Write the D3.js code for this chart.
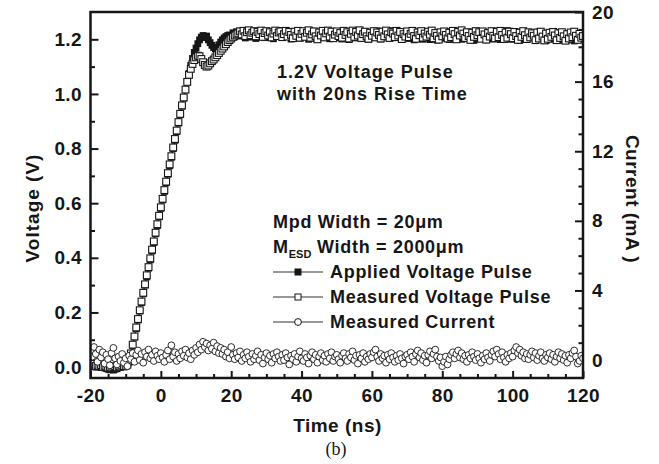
<!DOCTYPE html>
<html>
<head>
<meta charset="utf-8">
<script src="https://cdn.jsdelivr.net/npm/d3@7.9.0/dist/d3.min.js"></script>
<style>
  body { margin: 0; background: #fff; }
  svg text { font-family: "Liberation Sans", Arial, sans-serif; font-weight: bold; fill: #161616; }
  .tick text { font-size: 19px; letter-spacing: 0.4px; }
  .title { font-size: 19px; }
  .note { font-size: 18px; letter-spacing: 1px; }
  .leg { font-size: 18px; letter-spacing: 0.7px; }
  .cap { font-family: "Liberation Serif", "Times New Roman", serif !important; font-weight: normal !important; font-size: 18px; }
</style>
</head>
<body>
<svg id="chart" width="659" height="464"></svg>
<script>
// scope samples: every 0.5 ns from -20 ns
const startTime = -20;
const timeStep = 0.5;

const appliedV = [
  0.004, 0.002, 0.003, 0.000, 0.001, 0.002, -0.002, 0.000, -0.003, -0.005, -0.008, -0.010, -0.009, -0.011, -0.008, -0.006, -0.002, 0.000, 0.002, 0.001,
  0.003, 0.006, 0.018, 0.045, 0.078, 0.110, 0.140, 0.172, 0.205, 0.236, 0.268, 0.300, 0.330, 0.362, 0.393, 0.425, 0.456, 0.488, 0.518, 0.550,
  0.581, 0.612, 0.643, 0.675, 0.706, 0.737, 0.768, 0.800, 0.830, 0.862, 0.893, 0.924, 0.955, 0.985, 1.015, 1.045, 1.075, 1.105, 1.130, 1.152,
  1.168, 1.184, 1.198, 1.208, 1.214, 1.206, 1.212, 1.198, 1.188, 1.178, 1.170, 1.165, 1.170, 1.180, 1.190, 1.198, 1.205, 1.210, 1.214, 1.216,
  1.214, 1.224, 1.209, 1.228, 1.217, 1.230, 1.212, 1.222, 1.205, 1.226, 1.219, 1.208, 1.229, 1.215, 1.203, 1.224, 1.211, 1.231, 1.218, 1.206,
  1.225, 1.210, 1.228, 1.216, 1.202, 1.223, 1.213, 1.232, 1.219, 1.207, 1.226, 1.212, 1.229, 1.217, 1.201, 1.221, 1.209, 1.227, 1.214, 1.204,
  1.224, 1.211, 1.228, 1.215, 1.200, 1.219, 1.230, 1.213, 1.203, 1.222, 1.227, 1.208, 1.220, 1.212, 1.229, 1.217, 1.202, 1.225, 1.210, 1.221,
  1.206, 1.226, 1.214, 1.201, 1.219, 1.229, 1.210, 1.199, 1.216, 1.225, 1.205, 1.221, 1.230, 1.212, 1.203, 1.218, 1.227, 1.209, 1.200, 1.215,
  1.226, 1.207, 1.218, 1.231, 1.213, 1.201, 1.221, 1.228, 1.209, 1.224, 1.204, 1.216, 1.232, 1.219, 1.206, 1.225, 1.212, 1.200, 1.220, 1.229,
  1.214, 1.203, 1.224, 1.210, 1.198, 1.217, 1.227, 1.206, 1.222, 1.200, 1.213, 1.229, 1.208, 1.199, 1.219, 1.225, 1.205, 1.197, 1.215, 1.223,
  1.204, 1.218, 1.228, 1.209, 1.199, 1.214, 1.226, 1.203, 1.219, 1.231, 1.212, 1.200, 1.210, 1.222, 1.202, 1.216, 1.227, 1.207, 1.196, 1.213,
  1.224, 1.205, 1.215, 1.229, 1.211, 1.198, 1.220, 1.208, 1.225, 1.201, 1.214, 1.230, 1.210, 1.199, 1.219, 1.204, 1.223, 1.232, 1.213, 1.200,
  1.219, 1.207, 1.226, 1.203, 1.196, 1.214, 1.228, 1.211, 1.199, 1.221, 1.205, 1.224, 1.209, 1.197, 1.216, 1.227, 1.203, 1.218, 1.201, 1.195,
  1.213, 1.200, 1.222, 1.206, 1.225, 1.202, 1.196, 1.212, 1.223, 1.199, 1.215, 1.197, 1.206, 1.221, 1.203, 1.194, 1.211, 1.198, 1.216, 1.201,
  1.207
];

const measuredV = [
  0.010, 0.006, 0.012, 0.004, 0.008, 0.003, 0.007, 0.001, 0.005, 0.002, -0.002, 0.001, -0.003, 0.000, 0.003, -0.001, 0.004, 0.002, 0.006, 0.003,
  0.005, 0.010, 0.024, 0.050, 0.082, 0.112, 0.145, 0.176, 0.208, 0.240, 0.272, 0.303, 0.336, 0.366, 0.398, 0.430, 0.460, 0.492, 0.523, 0.554,
  0.585, 0.616, 0.648, 0.679, 0.710, 0.742, 0.772, 0.804, 0.835, 0.866, 0.897, 0.927, 0.958, 0.987, 1.016, 1.044, 1.070, 1.092, 1.110, 1.124,
  1.134, 1.140, 1.138, 1.128, 1.116, 1.106, 1.100, 1.104, 1.112, 1.120, 1.126, 1.134, 1.142, 1.150, 1.158, 1.166, 1.174, 1.182, 1.190, 1.197,
  1.203, 1.209, 1.214, 1.218, 1.222, 1.229, 1.218, 1.231, 1.212, 1.226, 1.233, 1.215, 1.224, 1.230, 1.211, 1.227, 1.219, 1.232, 1.209, 1.223,
  1.230, 1.214, 1.226, 1.207, 1.221, 1.232, 1.212, 1.225, 1.229, 1.208, 1.219, 1.231, 1.210, 1.227, 1.216, 1.204, 1.228, 1.213, 1.231, 1.206,
  1.220, 1.230, 1.209, 1.224, 1.233, 1.206, 1.218, 1.229, 1.211, 1.200, 1.225, 1.214, 1.231, 1.207, 1.222, 1.232, 1.210, 1.228, 1.204, 1.217,
  1.229, 1.212, 1.223, 1.206, 1.231, 1.216, 1.226, 1.203, 1.220, 1.232, 1.209, 1.227, 1.214, 1.233, 1.205, 1.219, 1.228, 1.211, 1.202, 1.224,
  1.213, 1.230, 1.207, 1.225, 1.216, 1.203, 1.228, 1.211, 1.232, 1.218, 1.205, 1.226, 1.221, 1.208, 1.231, 1.214, 1.227, 1.201, 1.219, 1.210,
  1.229, 1.208, 1.220, 1.231, 1.212, 1.202, 1.225, 1.215, 1.230, 1.206, 1.221, 1.210, 1.228, 1.217, 1.232, 1.204, 1.223, 1.213, 1.199, 1.226,
  1.211, 1.229, 1.216, 1.203, 1.224, 1.208, 1.231, 1.219, 1.200, 1.227, 1.214, 1.233, 1.221, 1.205, 1.226, 1.212, 1.198, 1.224, 1.209, 1.230,
  1.215, 1.226, 1.202, 1.229, 1.218, 1.199, 1.223, 1.210, 1.230, 1.213, 1.204, 1.227, 1.208, 1.231, 1.216, 1.201, 1.225, 1.206, 1.228, 1.219,
  1.204, 1.227, 1.212, 1.198, 1.224, 1.209, 1.230, 1.215, 1.201, 1.226, 1.207, 1.222, 1.213, 1.197, 1.225, 1.203, 1.228, 1.210, 1.196, 1.221,
  1.202, 1.224, 1.209, 1.227, 1.214, 1.197, 1.222, 1.205, 1.226, 1.211, 1.195, 1.219, 1.203, 1.225, 1.208, 1.228, 1.213, 1.198, 1.220, 1.206,
  1.212
];

// measured current, mA (right axis)
const currentMA = [
  0.55, 0.20, 0.75, 0.35, -0.10, 0.60, 0.15, 0.45, -0.20, 0.30, 0.05, -0.30, 0.40, 0.70, 0.10, -0.25, 0.20, -0.05, 0.35, -0.15,
  0.10, -0.35, 0.25, 0.05, 0.40, -0.10, 0.30, 0.55, 0.00, 0.35, -0.15, 0.45, 0.20, 0.60, 0.10, 0.30, -0.05, 0.50, 0.25, 0.05,
  0.40, 0.15, -0.10, 0.30, 0.55, 0.05, 0.85, 0.20, 0.45, -0.05, 0.35, 0.10, 0.50, 0.25, 0.60, 0.15, 0.40, 0.05, 0.55, 0.30,
  0.70, 0.45, 0.90, 0.60, 1.05, 0.75, 0.95, 0.55, 0.85, 0.65, 1.00, 0.50, 0.80, 0.40, 0.70, 0.35, 0.60, 0.20, 0.45, 0.10,
  0.75, 0.30, 0.05, 0.40, 0.15, 0.50, -0.05, 0.30, 0.10, 0.45, 0.20, -0.10, 0.35, 0.05, 0.25, 0.50, 0.00, 0.30, -0.20, 0.15,
  0.40, 0.05, 0.25, -0.15, 0.35, 0.10, 0.45, 0.20, -0.05, 0.30, 0.00, 0.40, 0.15, -0.25, 0.25, 0.05, 0.35, -0.10, 0.20, 0.50,
  0.10, -0.05, 0.35, 0.15, -0.20, 0.25, 0.45, 0.05, 0.30, -0.15, 0.20, 0.40, 0.00, 0.25, -0.10, 0.35, 0.10, 0.45, -0.05, 0.20,
  0.30, 0.05, -0.15, 0.25, 0.40, 0.10, -0.05, 0.35, 0.15, 0.50, 0.00, 0.25, -0.20, 0.30, 0.10, 0.40, -0.10, 0.20, 0.05, 0.35,
  0.15, 0.45, 0.60, 0.20, -0.05, 0.35, 0.10, 0.25, -0.15, 0.30, 0.05, 0.40, 0.15, -0.10, 0.25, 0.00, 0.35, 0.10, -0.20, 0.20,
  0.30, 0.05, 0.45, 0.20, -0.10, 0.35, 0.55, 0.15, 0.40, 0.00, 0.25, -0.15, 0.30, 0.50, 0.10, 0.35, 0.60, 0.20, -0.05, 0.15,
  -0.35, -0.10, 0.20, -0.25, 0.05, 0.30, 0.45, 0.10, 0.35, 0.55, 0.15, 0.40, 0.05, 0.25, -0.10, 0.30, 0.10, 0.45, 0.20, 0.00,
  0.35, 0.10, -0.15, 0.25, 0.05, 0.40, 0.15, -0.05, 0.30, 0.50, 0.20, 0.60, 0.35, 0.05, 0.45, 0.15, -0.10, 0.30, 0.10, 0.40,
  0.20, 0.55, 0.75, 0.40, 0.60, 0.25, 0.45, 0.10, 0.35, 0.05, 0.30, 0.50, 0.15, 0.40, 0.00, 0.25, 0.45, 0.10, -0.05, 0.30,
  0.15, 0.40, 0.05, 0.30, -0.10, 0.20, 0.45, 0.10, 0.35, 0.00, 0.25, -0.15, 0.30, 0.10, 0.40, 0.55, 0.20, -0.20, -0.05, 0.25,
  0.10
];

const xTicks = [-20, 0, 20, 40, 60, 80, 100, 120];
const xMinor = [-15, -10, -5, 5, 10, 15, 25, 30, 35, 45, 50, 55, 65, 70, 75, 85, 90, 95, 105, 110, 115];
const voltTicks = [0.0, 0.2, 0.4, 0.6, 0.8, 1.0, 1.2];
const voltMinor = [0.1, 0.3, 0.5, 0.7, 0.9, 1.1];
const currTicks = [0, 4, 8, 12, 16, 20];
const currMinor = [1, 2, 3, 5, 6, 7, 9, 10, 11, 13, 14, 15, 17, 18, 19];

const seriesLabels = ['Applied Voltage Pulse', 'Measured Voltage Pulse', 'Measured Current'];

const svg = d3.select('#chart');
const plotLeft = 90.5, plotRight = 583, plotTop = 12, plotBottom = 378;

const x = d3.scaleLinear().domain([-20, 120]).range([plotLeft, plotRight]);
const yV = d3.scaleLinear().domain([-0.04, 1.3]).range([plotBottom, plotTop]);
const yI = d3.scaleLinear().domain([-1.03, 20]).range([plotBottom, plotTop]);

const timeAt = i => startTime + i * timeStep;

function styleAxis(g) {
  g.select('.domain').remove();
  g.selectAll('.tick line').attr('stroke', '#161616').attr('stroke-width', 2);
}

// minor ticks
svg.append('g').attr('transform', `translate(0,${plotBottom})`)
  .call(d3.axisBottom(x).tickValues(xMinor).tickSize(-4).tickFormat(''))
  .call(styleAxis);
svg.append('g').attr('transform', `translate(${plotLeft},0)`)
  .call(d3.axisLeft(yV).tickValues(voltMinor).tickSize(-4.5).tickFormat(''))
  .call(styleAxis);
svg.append('g').attr('transform', `translate(${plotRight},0)`)
  .call(d3.axisRight(yI).tickValues(currMinor).tickSize(-4.5).tickFormat(''))
  .call(styleAxis);

// major ticks
svg.append('g').attr('transform', `translate(0,${plotBottom})`)
  .call(d3.axisBottom(x).tickValues(xTicks).tickSize(-7).tickPadding(11)
    .tickFormat(d => d < 0 ? '-' + Math.abs(d) : String(d)))
  .call(styleAxis);
svg.append('g').attr('transform', `translate(${plotLeft},0)`)
  .call(d3.axisLeft(yV).tickValues(voltTicks).tickSize(-8).tickPadding(8.5).tickFormat(d3.format('.1f')))
  .call(styleAxis);
svg.append('g').attr('transform', `translate(${plotRight},0)`)
  .call(d3.axisRight(yI).tickValues(currTicks).tickSize(-8).tickPadding(9).tickFormat(d3.format('d')))
  .call(styleAxis);

svg.append('clipPath').attr('id', 'plot-clip')
  .append('rect').attr('x', plotLeft).attr('y', plotTop)
  .attr('width', plotRight - plotLeft).attr('height', plotBottom - plotTop);

const plot = svg.append('g').attr('clip-path', 'url(#plot-clip)');

const voltLine = d3.line().x((d, i) => x(timeAt(i))).y(d => yV(d));
const currLine = d3.line().x((d, i) => x(timeAt(i))).y(d => yI(d));

plot.append('path').attr('d', voltLine(appliedV))
  .attr('fill', 'none').attr('stroke', '#161616').attr('stroke-width', 1);
plot.selectAll('rect.applied')
  .data(appliedV)
  .join('rect')
  .attr('class', 'applied')
  .attr('x', (d, i) => x(timeAt(i)) - 3.4)
  .attr('y', d => yV(d) - 3.4)
  .attr('width', 6.8).attr('height', 6.8)
  .attr('fill', '#161616');

plot.append('path').attr('d', voltLine(measuredV))
  .attr('fill', 'none').attr('stroke', '#333').attr('stroke-width', 1);
plot.selectAll('rect.measured')
  .data(measuredV)
  .join('rect')
  .attr('class', 'measured')
  .attr('x', (d, i) => x(timeAt(i)) - 3.4)
  .attr('y', d => yV(d) - 3.4)
  .attr('width', 6.8).attr('height', 6.8)
  .attr('fill', '#fff').attr('stroke', '#161616').attr('stroke-width', 1.1);

plot.append('path').attr('d', currLine(currentMA))
  .attr('fill', 'none').attr('stroke', '#333').attr('stroke-width', 0.8);
plot.selectAll('circle.current')
  .data(currentMA)
  .join('circle')
  .attr('class', 'current')
  .attr('cx', (d, i) => x(timeAt(i)))
  .attr('cy', d => yI(d))
  .attr('r', 3.4)
  .attr('fill', '#fff').attr('stroke', '#161616').attr('stroke-width', 0.9);

// frame
svg.append('rect')
  .attr('x', plotLeft).attr('y', plotTop)
  .attr('width', plotRight - plotLeft).attr('height', plotBottom - plotTop)
  .attr('fill', 'none').attr('stroke', '#161616').attr('stroke-width', 2.5);

// axis titles
svg.append('text').attr('class', 'title').attr('text-anchor', 'middle')
  .attr('transform', 'translate(39,208) rotate(-90)').style('letter-spacing', '1px')
  .text('Voltage (V)');
svg.append('text').attr('class', 'title').attr('text-anchor', 'middle')
  .attr('transform', 'translate(626,199) rotate(90)').style('letter-spacing', '0.5px')
  .text('Current (mA )');
svg.append('text').attr('class', 'title').attr('text-anchor', 'middle')
  .attr('x', 337.5).attr('y', 432).style('letter-spacing', '0.5px')
  .text('Time (ns)');
svg.append('text').attr('class', 'cap').attr('text-anchor', 'middle')
  .attr('x', 336).attr('y', 455)
  .text('(b)');

// annotation
svg.append('text').attr('class', 'note').attr('x', 277).attr('y', 78).text('1.2V Voltage Pulse');
svg.append('text').attr('class', 'note').attr('x', 277).attr('y', 100).text('with 20ns Rise Time');

// legend
svg.append('text').attr('class', 'leg').attr('x', 273).attr('y', 228).text('Mpd Width = 20μm');
const esd = svg.append('text').attr('class', 'leg').attr('x', 273).attr('y', 253);
esd.append('tspan').text('M');
esd.append('tspan').attr('dy', 5).style('font-size', '11px').style('letter-spacing', '0px').text('ESD');
esd.append('tspan').attr('dy', -5).text(' Width = 2000μm');

const rows = svg.selectAll('g.legend-row')
  .data(seriesLabels)
  .join('g')
  .attr('class', 'legend-row')
  .attr('transform', (d, i) => `translate(0,${272 + i * 25})`);

rows.append('line')
  .attr('x1', 273).attr('x2', 323)
  .attr('stroke', '#333').attr('stroke-width', 1.2);
rows.filter((d, i) => i < 2).append('rect')
  .attr('x', 295).attr('y', -3).attr('width', 6).attr('height', 6)
  .attr('fill', (d, i) => i === 0 ? '#161616' : '#fff')
  .attr('stroke', '#161616').attr('stroke-width', 1);
rows.filter((d, i) => i === 2).append('circle')
  .attr('cx', 298).attr('r', 3.4)
  .attr('fill', '#fff').attr('stroke', '#161616').attr('stroke-width', 1);
rows.append('text').attr('class', 'leg')
  .attr('x', 330).attr('y', 6)
  .text(d => d);
</script>
</body>
</html>
